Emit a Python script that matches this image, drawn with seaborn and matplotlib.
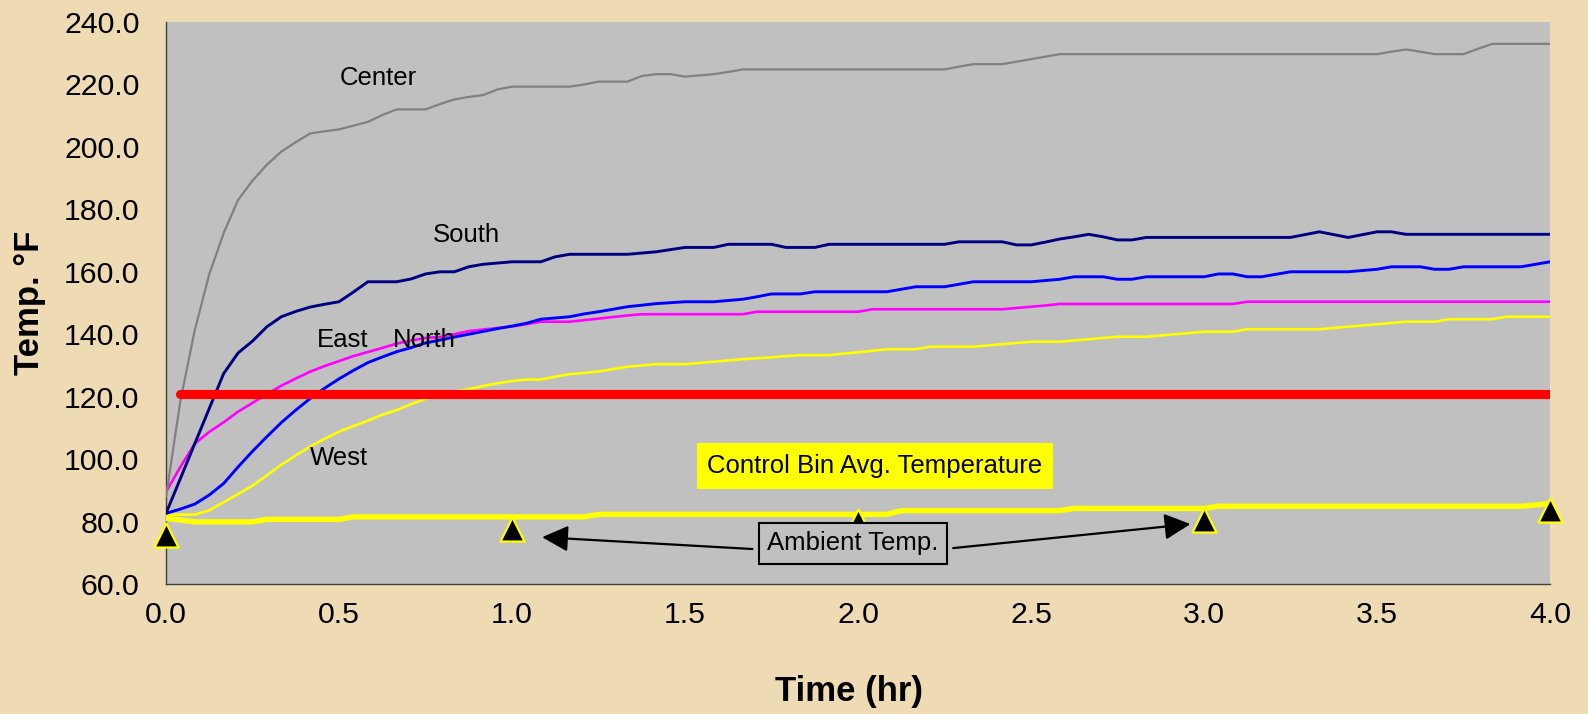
import numpy as np
import pandas as pd
import matplotlib
matplotlib.use("Agg")
import matplotlib.pyplot as plt
from matplotlib.ticker import FormatStrFormatter
import seaborn as sns

# ---------------- data ----------------
time_min = np.arange(0, 242.5, 2.5)          # readings every 2.5 min, 0..240 min

center = [88, 118.7, 141.4, 159.2, 172.4, 183, 189.2, 194.3, 198.5, 201.5,
          204.3, 205, 205.6, 206.8, 208, 210.2, 212, 212, 212, 213.7,
          215.2, 216, 216.6, 218.4, 219.3, 219.3, 219.3, 219.3, 219.3, 220,
          220.9, 220.9, 220.9, 222.7, 223.3, 223.3, 222.5, 222.9, 223.3, 224,
          224.8, 224.8, 224.8, 224.8, 224.8, 224.8, 224.8, 224.8, 224.8, 224.8,
          224.8, 224.8, 224.8, 224.8, 224.8, 225.7, 226.5, 226.5, 226.5, 227.3,
          228.1, 228.9, 229.7, 229.7, 229.7, 229.7, 229.7, 229.7, 229.7, 229.7,
          229.7, 229.7, 229.7, 229.7, 229.7, 229.7, 229.7, 229.7, 229.7, 229.7,
          229.7, 229.7, 229.7, 229.7, 229.7, 230.5, 231.2, 230.5, 229.7, 229.7,
          229.7, 231.4, 233, 233, 233, 233, 233]

south = [82.6, 93.8, 105, 116.2, 127.4, 134, 137.8, 142.4, 145.6, 147.3,
         148.7, 149.6, 150.4, 153.5, 156.8, 156.8, 156.8, 157.7, 159.3, 160,
         160, 161.6, 162.4, 162.8, 163.2, 163.2, 163.2, 164.8, 165.6, 165.6,
         165.6, 165.6, 165.6, 166, 166.4, 167.1, 167.8, 167.8, 167.8, 168.8,
         168.8, 168.8, 168.8, 167.8, 167.8, 167.8, 168.8, 168.8, 168.8, 168.8,
         168.8, 168.8, 168.8, 168.8, 168.8, 169.6, 169.6, 169.6, 169.6, 168.6,
         168.6, 169.5, 170.5, 171.2, 172, 171.2, 170.2, 170.2, 171, 171,
         171, 171, 171, 171, 171, 171, 171, 171, 171, 171.9,
         172.8, 171.9, 171, 171.9, 172.8, 172.8, 172, 172, 172, 172,
         172, 172, 172, 172, 172, 172, 172]

north = [82.6, 84, 85.6, 88.5, 92.2, 97.5, 102.5, 107.2, 111.7, 115.7,
         119.4, 122.7, 125.7, 128.4, 130.9, 132.7, 134.4, 135.7, 137.2, 138.1,
         139.1, 140, 140.9, 141.8, 142.6, 143.5, 144.8, 145.2, 145.6, 146.5,
         147.2, 148, 148.8, 149.3, 149.8, 150.1, 150.4, 150.4, 150.4, 150.8,
         151.2, 152, 152.9, 152.9, 152.9, 153.6, 153.6, 153.6, 153.6, 153.6,
         153.6, 154.4, 155.2, 155.2, 155.2, 156, 156.8, 156.8, 156.8, 156.8,
         156.8, 157.2, 157.6, 158.4, 158.4, 158.4, 157.6, 157.6, 158.4, 158.4,
         158.4, 158.4, 158.4, 159.3, 159.3, 158.4, 158.4, 159.2, 160, 160,
         160, 160, 160, 160.4, 160.8, 161.6, 161.6, 161.6, 160.8, 160.8,
         161.6, 161.6, 161.6, 161.6, 161.6, 162.4, 163.2]

east = [89.5, 97.5, 105, 108.7, 111.8, 115.2, 118, 120.8, 123.5, 125.8,
        128, 129.8, 131.4, 133, 134.3, 135.6, 137, 138, 138.8, 139.1,
        140, 141, 141.5, 142, 142.5, 143.2, 144, 144, 144, 144.5,
        145, 145.5, 146, 146.4, 146.4, 146.4, 146.4, 146.4, 146.4, 146.4,
        146.4, 147.2, 147.2, 147.2, 147.2, 147.2, 147.2, 147.2, 147.2, 148,
        148, 148, 148, 148, 148, 148, 148, 148, 148, 148.4,
        148.8, 149.2, 149.7, 149.7, 149.7, 149.7, 149.7, 149.7, 149.7, 149.7,
        149.7, 149.7, 149.7, 149.7, 149.7, 150.4, 150.4, 150.4, 150.4, 150.4,
        150.4, 150.4, 150.4, 150.4, 150.4, 150.4, 150.4, 150.4, 150.4, 150.4,
        150.4, 150.4, 150.4, 150.4, 150.4, 150.4, 150.4]

west = [82.2, 82.2, 82.2, 83.6, 86.2, 88.8, 91.5, 94.8, 98.2, 101.2,
        104, 106.5, 108.8, 110.6, 112.3, 114.2, 115.7, 117.6, 119.3, 120.5,
        121.6, 122.4, 123.4, 124.3, 125, 125.5, 125.5, 126.4, 127.2, 127.6,
        128.1, 128.8, 129.6, 130, 130.4, 130.4, 130.4, 130.8, 131.2, 131.6,
        132, 132.3, 132.6, 133, 133.3, 133.3, 133.3, 133.8, 134.2, 134.7,
        135.2, 135.2, 135.2, 136, 136, 136, 136, 136.4, 136.8, 137.2,
        137.6, 137.6, 137.6, 138, 138.4, 138.8, 139.2, 139.2, 139.2, 139.6,
        140, 140.4, 140.8, 140.8, 140.8, 141.6, 141.6, 141.6, 141.6, 141.6,
        141.6, 142, 142.4, 142.8, 143.2, 143.6, 144, 144, 144, 144.8,
        144.8, 144.8, 144.8, 145.6, 145.6, 145.6, 145.6]

control_bin = [81.0, 80.5, 79.9, 79.9, 79.9, 79.9, 79.9, 80.7, 80.7, 80.7,
               80.7, 80.7, 80.7, 81.5, 81.5, 81.5, 81.5, 81.5, 81.5, 81.5,
               81.5, 81.5, 81.5, 81.5, 81.5, 81.5, 81.5, 81.5, 81.5, 81.5,
               82.3, 82.3, 82.3, 82.3, 82.3, 82.3, 82.3, 82.3, 82.3, 82.3,
               82.3, 82.3, 82.3, 82.3, 82.3, 82.3, 82.3, 82.3, 82.3, 82.3,
               82.3, 83.5, 83.5, 83.5, 83.5, 83.5, 83.5, 83.5, 83.5, 83.5,
               83.5, 83.5, 83.5, 84.2, 84.2, 84.2, 84.2, 84.2, 84.2, 84.2,
               84.2, 84.2, 84.2, 84.9, 84.9, 84.9, 84.9, 84.9, 84.9, 84.9,
               84.9, 84.9, 84.9, 84.9, 84.9, 84.9, 84.9, 84.9, 84.9, 84.9,
               84.9, 84.9, 84.9, 84.9, 84.9, 85.3, 85.8]

ambient_hr = [0.0, 1.0, 2.0, 3.0, 4.0]
ambient_temp = [75.7, 77.6, 80.3, 80.6, 83.7]

target_hr = [0.0417, 4.0]
target_temp = [120.7, 120.7]

x_ticks = [0.0, 0.5, 1.0, 1.5, 2.0, 2.5, 3.0, 3.5, 4.0]
y_ticks = [60, 80, 100, 120, 140, 160, 180, 200, 220, 240]

# ---------------- style ----------------
sns.set_style("white")
plt.rcParams['font.family'] = ['Liberation Sans', 'DejaVu Sans']
plt.rcParams['text.color'] = 'black'
plt.rcParams['axes.labelcolor'] = 'black'
plt.rcParams['xtick.color'] = 'black'
plt.rcParams['ytick.color'] = 'black'

BG = '#EEDBB4'
fig = plt.figure(figsize=(15.88, 7.14), dpi=100, facecolor=BG)
ax = fig.add_axes([166 / 1588, 1 - 584 / 714, 1384 / 1588, 562 / 714])
ax.set_facecolor('#C0C0C0')

time_hr = time_min / 60.0
df = pd.DataFrame({'t': time_hr, 'Center': center, 'South': south,
                   'North': north, 'East': east, 'West': west,
                   'Control': control_bin})

series_style = [
    ('West', '#FFFF00', 1.9),
    ('East', '#FF00FF', 1.9),
    ('North', '#0000FF', 2.1),
    ('South', '#000080', 2.1),
    ('Center', '#808080', 1.6),
    ('Control', '#FFFF00', 3.9),
]
for name, col, lw in series_style:
    sns.lineplot(data=df, x='t', y=name, color=col, linewidth=lw,
                 estimator=None, ax=ax, zorder=3)

sns.lineplot(x=target_hr, y=target_temp, color='#FF0000', linewidth=6.6,
             solid_capstyle='round', ax=ax, zorder=4)

sns.scatterplot(x=ambient_hr, y=ambient_temp, marker='^', s=300,
                color='black', edgecolor='#FFFF00', linewidth=1.6,
                ax=ax, zorder=5, clip_on=False)

# ---------------- axes ----------------
ax.set_xlim(0, 4)
ax.set_ylim(60, 240)
ax.set_xticks(x_ticks)
ax.set_yticks(y_ticks)
ax.xaxis.set_major_formatter(FormatStrFormatter('%.1f'))
ax.yaxis.set_major_formatter(FormatStrFormatter('%.1f'))
ax.tick_params(axis='both', direction='out', length=10, width=1,
               color='#404040', labelsize=21.8, labelcolor='black')
ax.tick_params(axis='y', pad=9)
ax.tick_params(axis='x', pad=2)
for s in ['top', 'right']:
    ax.spines[s].set_visible(False)
for s in ['left', 'bottom']:
    ax.spines[s].set_color('#404040')
    ax.spines[s].set_linewidth(1)
ax.set_xlabel('')
ax.set_ylabel('')

fig.text(849 / 1588, 1 - 692 / 714, 'Time (hr)', ha='center', va='center',
         fontsize=25, fontweight='bold', color='black')
fig.text(30 / 1588, 1 - 303 / 714, 'Temp. °F', ha='center', va='center',
         rotation=90, fontsize=25, fontweight='bold', color='black')

# ---------------- labels & annotations ----------------
lab_fs = 18.5
ax.text(0.503, 222.2, 'Center', fontsize=lab_fs, ha='left', va='center', zorder=6)
ax.text(0.772, 171.8, 'South', fontsize=lab_fs, ha='left', va='center', zorder=6)
ax.text(0.437, 138.2, 'East', fontsize=lab_fs, ha='left', va='center', zorder=6)
ax.text(0.657, 138.0, 'North', fontsize=lab_fs, ha='left', va='center', zorder=6)
ax.text(0.417, 100.2, 'West', fontsize=lab_fs, ha='left', va='center', zorder=6)

ax.text(2.049, 97.8, 'Control Bin Avg. Temperature', fontsize=lab_fs,
        ha='center', va='center', zorder=6,
        bbox=dict(boxstyle='square,pad=0.42', fc='#FFFF00', ec='none'))

ax.text(1.986, 73.0, 'Ambient Temp.', fontsize=lab_fs, ha='center',
        va='center', zorder=7,
        bbox=dict(boxstyle='square,pad=0.33', fc='#C0C0C0', ec='black', lw=1.5))

arrow = dict(arrowstyle='-|>,head_length=0.8,head_width=0.4', color='black',
             lw=1.6, shrinkA=0, shrinkB=0, mutation_scale=20)
ax.annotate('', xy=(1.087, 75.0), xytext=(1.695, 71.2), arrowprops=arrow, zorder=6)
ax.annotate('', xy=(2.961, 79.2), xytext=(2.275, 71.5), arrowprops=arrow, zorder=6)

fig.savefig('out.png', dpi=100, facecolor=BG)
